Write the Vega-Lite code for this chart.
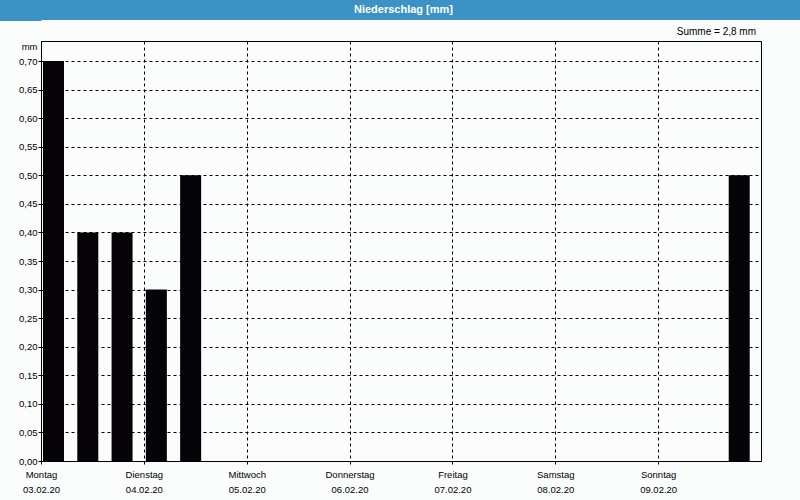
{
  "$schema": "https://vega.github.io/schema/vega-lite/v6.json",
  "background": "#fbfcfc",
  "autosize": {"type": "none"},
  "padding": {"left": 41, "top": 0, "right": 759, "bottom": 500},
  "columns": 1,
  "align": "none",
  "spacing": 5,
  "concat": [
    {
      "width": 759,
      "height": 20,
      "view": {"fill": "#3c92c4", "stroke": null},
      "data": {"values": [{"t": "Niederschlag [mm]"}]},
      "mark": {"type": "text", "color": "white", "fontWeight": "bold", "fontSize": 11, "font": "Liberation Sans", "dx": -17},
      "encoding": {
        "text": {"field": "t", "type": "nominal"},
        "y": {"field": "t", "type": "nominal", "axis": {"labels": false, "title": null, "domain": false, "grid": false, "ticks": true, "tickSize": 42, "tickWidth": 21, "tickColor": "#3c92c4", "tickCap": "butt"}}
      }
    },
    {
      "width": 720,
      "height": 420,
      "view": {"stroke": "#000", "strokeWidth": 1, "fill": null},
      "title": {"text": "Summe = 2,8 mm", "anchor": "end", "frame": "group", "fontSize": 10, "fontWeight": "normal", "font": "Liberation Sans", "offset": -4, "baseline": "alphabetic", "dx": -5, "color": "#000"},
      "data": {"values": [
        {"start": "2020-02-03T00:00:00Z", "mm": 0.70},
        {"start": "2020-02-03T08:00:00Z", "mm": 0.40},
        {"start": "2020-02-03T16:00:00Z", "mm": 0.40},
        {"start": "2020-02-04T00:00:00Z", "mm": 0.30},
        {"start": "2020-02-04T08:00:00Z", "mm": 0.50},
        {"start": "2020-02-09T16:00:00Z", "mm": 0.50}
      ]},
      "mark": {"type": "bar", "width": 21, "xOffset": 12.5, "color": "#050308"},
      "encoding": {
        "x": {
          "field": "start", "type": "temporal",
          "scale": {"type": "utc", "nice": false, "padding": 0, "domain": [{"year": 2020, "month": 2, "date": 3, "utc": true}, {"year": 2020, "month": 2, "date": 10, "utc": true}]},
          "axis": {
            "title": null,
            "values": [
              {"year": 2020, "month": 2, "date": 3, "utc": true},
              {"year": 2020, "month": 2, "date": 4, "utc": true},
              {"year": 2020, "month": 2, "date": 5, "utc": true},
              {"year": 2020, "month": 2, "date": 6, "utc": true},
              {"year": 2020, "month": 2, "date": 7, "utc": true},
              {"year": 2020, "month": 2, "date": 8, "utc": true},
              {"year": 2020, "month": 2, "date": 9, "utc": true}
            ],
            "labelExpr": "[['Sonntag','Montag','Dienstag','Mittwoch','Donnerstag','Freitag','Samstag'][utcday(datum.value)], utcFormat(datum.value, '%d.%m.%y')]",
            "labelPadding": 5,
            "labelBaseline": "top",
            "labelLineHeight": 15,
            "labelDx": -3,
            "labelFontSize": 9.5,
            "labelOverlap": false,
            "labelFlush": false,
            "labelAlign": "center"
          }
        },
        "y": {
          "field": "mm", "type": "quantitative",
          "scale": {"domain": [0, 0.735], "nice": false, "zero": true, "padding": 0},
          "axis": {
            "values": [0, 0.05, 0.1, 0.15, 0.2, 0.25, 0.3, 0.35, 0.4, 0.45, 0.5, 0.55, 0.6, 0.65, 0.7],
            "labelExpr": "replace(format(datum.value, '.2f'), '.', ',')",
            "labelPadding": 1,
            "labelFontSize": 9.5,
            "labelFlush": false,
            "title": "mm",
            "titleAngle": 0,
            "titleAlign": "right",
            "titleBaseline": "middle",
            "titleX": -4,
            "titleY": 5,
            "titleFontSize": 9.5,
            "titleFontWeight": "normal"
          }
        }
      }
    }
  ],
  "config": {
    "font": "Liberation Sans",
    "axis": {
      "labelFont": "Liberation Sans",
      "titleFont": "Liberation Sans",
      "labelColor": "#000",
      "titleColor": "#000",
      "domainColor": "#000",
      "tickColor": "#000",
      "tickSize": 3,
      "gridColor": "#000",
      "gridDash": [3, 3],
      "gridOpacity": 1,
      "gridWidth": 1,
      "grid": true
    }
  }
}
